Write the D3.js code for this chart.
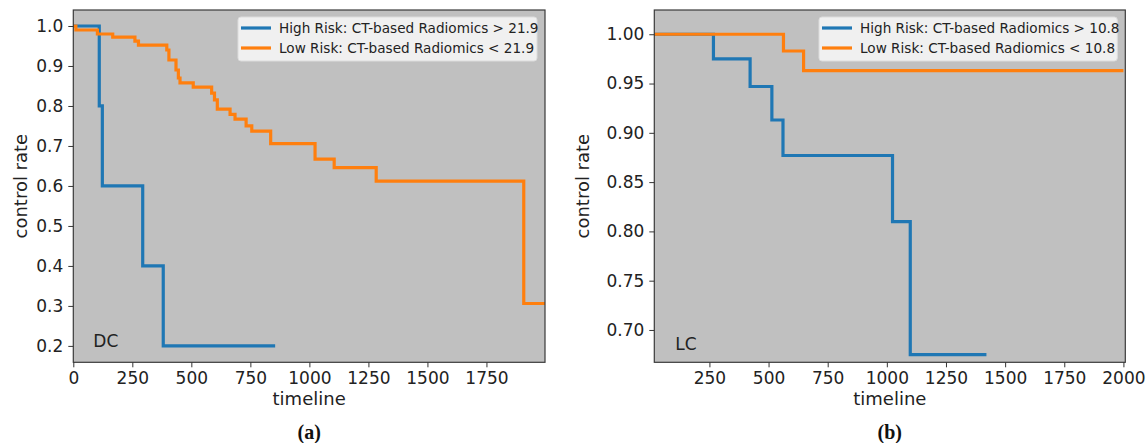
<!DOCTYPE html>
<html>
<head>
    <script src="https://cdnjs.cloudflare.com/ajax/libs/d3/7.8.5/d3.min.js"></script>
    <style>
        body { margin: 0; background: #fff; }
        svg { display: block; font-family: "DejaVu Sans", sans-serif; }
        .tick text { font-family: "DejaVu Sans", sans-serif; font-size: 17px; fill: #222; }
        .tick line { stroke: #333; }
        .domain { display: none; }
    </style>
</head>
<body>
<script>
// Panel (a): DC
const dcHighT = [0, 110, 123, 294, 381, 855];
const dcHighS = [1.0, 0.8, 0.6, 0.4, 0.2, 0.2];
const dcLowT = [0, 11, 102, 167, 261, 276, 396, 405, 435, 445, 452, 508, 586, 598, 610, 664, 685, 732, 756, 836, 1024, 1105, 1283, 1908, 1998];
const dcLowS = [1.0, 0.99, 0.98, 0.972, 0.962, 0.952, 0.94, 0.915, 0.89, 0.87, 0.858, 0.847, 0.832, 0.815, 0.792, 0.779, 0.767, 0.75, 0.737, 0.706, 0.667, 0.646, 0.612, 0.306, 0.306];
const dcXTicks = [0, 250, 500, 750, 1000, 1250, 1500, 1750];
const dcYTicks = [0.2, 0.3, 0.4, 0.5, 0.6, 0.7, 0.8, 0.9, 1.0];
const dcLegend = ["High Risk: CT-based Radiomics > 21.9", "Low Risk: CT-based Radiomics < 21.9"];

// Panel (b): LC
const lcHighT = [0, 267, 422, 514, 561, 1024, 1099, 1421];
const lcHighS = [1.0, 0.975, 0.947, 0.913, 0.877, 0.81, 0.675, 0.675];
const lcLowT = [0, 563, 648, 2000];
const lcLowS = [1.0, 0.983, 0.963, 0.963];
const lcXTicks = [250, 500, 750, 1000, 1250, 1500, 1750, 2000];
const lcYTicks = [0.70, 0.75, 0.80, 0.85, 0.90, 0.95, 1.00];
const lcLegend = ["High Risk: CT-based Radiomics > 10.8", "Low Risk: CT-based Radiomics < 10.8"];

const colors = ["#1f77b4", "#ff7f0e"];

const svg = d3.select("body").append("svg")
    .attr("width", 1148)
    .attr("height", 443);

function panel(opt) {
    const { left, right, top, bottom } = opt;
    const x = d3.scaleLinear().domain(opt.xDomain).range([left, right]);
    const y = d3.scaleLinear().domain(opt.yDomain).range([bottom, top]);
    const g = svg.append("g");

    g.append("rect")
        .attr("x", left).attr("y", top)
        .attr("width", right - left).attr("height", bottom - top)
        .attr("fill", "#c0c0c0");

    g.append("clipPath").attr("id", opt.id)
        .append("rect")
        .attr("x", left).attr("y", top - 2)
        .attr("width", right - left).attr("height", bottom - top + 4);

    const line = d3.line()
        .x(d => x(d[0]))
        .y(d => y(d[1]))
        .curve(d3.curveStepAfter);

    opt.series.forEach((s, i) => {
        const pts = s.t.map((t, k) => [t, s.s[k]]);
        g.append("path")
            .datum(pts)
            .attr("clip-path", `url(#${opt.id})`)
            .attr("fill", "none")
            .attr("stroke", colors[i])
            .attr("stroke-width", 3.2)
            .attr("d", line);
    });

    g.append("rect")
        .attr("x", left).attr("y", top)
        .attr("width", right - left).attr("height", bottom - top)
        .attr("fill", "none")
        .attr("stroke", "#3a3a3a")
        .attr("stroke-width", 1.2);

    g.append("g")
        .attr("transform", `translate(0,${bottom})`)
        .call(d3.axisBottom(x).tickValues(opt.xTicks).tickSize(5).tickPadding(5).tickFormat(d3.format("d")));

    g.append("g")
        .attr("transform", `translate(${left},0)`)
        .call(d3.axisLeft(y).tickValues(opt.yTicks).tickSize(5).tickPadding(5).tickFormat(d3.format(opt.yFmt)));

    g.append("text")
        .attr("x", (left + right) / 2)
        .attr("y", 405)
        .attr("text-anchor", "middle")
        .attr("font-size", 18)
        .attr("fill", "#222")
        .text("timeline");

    g.append("text")
        .attr("transform", `translate(${opt.yLabelX},${(top + bottom) / 2}) rotate(-90)`)
        .attr("text-anchor", "middle")
        .attr("font-size", 18)
        .attr("fill", "#222")
        .text("control rate");

    g.append("text")
        .attr("x", left + opt.tagDx)
        .attr("y", opt.tagY)
        .attr("font-size", 17)
        .attr("fill", "#222")
        .text(opt.tag);

    g.append("text")
        .attr("x", (left + right) / 2)
        .attr("y", 439)
        .attr("text-anchor", "middle")
        .attr("font-family", "Liberation Serif, serif")
        .attr("font-weight", "bold")
        .attr("font-size", 20)
        .attr("fill", "#111")
        .text(opt.caption);

    // legend
    const lg = g.append("g").attr("transform", `translate(${opt.legendX},17)`);
    lg.append("rect")
        .attr("x", 0).attr("y", 0)
        .attr("width", right - 8 - opt.legendX).attr("height", 44)
        .attr("rx", 3)
        .attr("fill", "#f0f0f0")
        .attr("stroke", "#dcdcdc");
    opt.legend.forEach((txt, i) => {
        const yy = 11 + i * 20;
        lg.append("line")
            .attr("x1", 3).attr("x2", 33)
            .attr("y1", yy).attr("y2", yy)
            .attr("stroke", colors[i])
            .attr("stroke-width", 3.2);
        lg.append("text")
            .attr("x", 41).attr("y", yy + 4.8)
            .attr("font-size", 13.6)
            .attr("fill", "#222")
            .text(txt);
    });
}

panel({
    id: "clipA",
    left: 73.3, right: 545, top: 10, bottom: 362.3,
    xDomain: [0, 1998], yDomain: [0.159, 1.04],
    xTicks: dcXTicks, yTicks: dcYTicks, yFmt: ".1f",
    series: [{ t: dcHighT, s: dcHighS }, { t: dcLowT, s: dcLowS }],
    legend: dcLegend, legendX: 238,
    yLabelX: 27, tag: "DC", tagDx: 20, tagY: 347,
    caption: "(a)"
});

panel({
    id: "clipB",
    left: 654.3, right: 1125.3, top: 10, bottom: 362.3,
    xDomain: [17, 2008], yDomain: [0.6672, 1.0246],
    xTicks: lcXTicks, yTicks: lcYTicks, yFmt: ".2f",
    series: [{ t: lcHighT, s: lcHighS }, { t: lcLowT, s: lcLowS }],
    legend: lcLegend, legendX: 819,
    yLabelX: 589, tag: "LC", tagDx: 21, tagY: 350,
    caption: "(b)"
});
</script>
</body>
</html>
